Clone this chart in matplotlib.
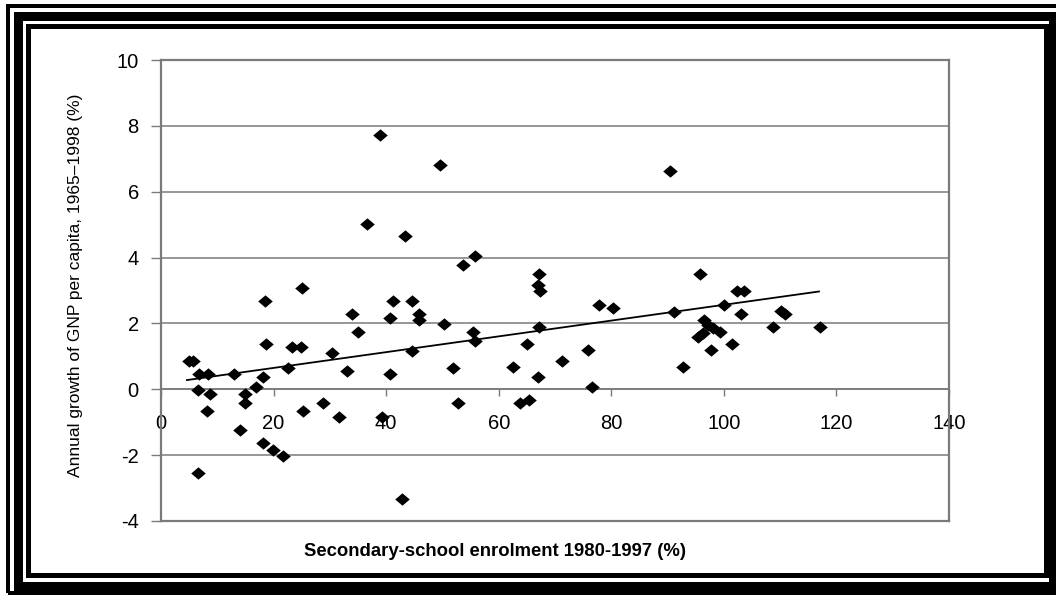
import numpy as np
import matplotlib.pyplot as plt
from matplotlib.patches import Rectangle

# secondary-school enrolment (%) vs annual GNP growth per capita (%)
enrolment = [
    4.9, 5.6, 6.8, 8.4, 6.5, 8.7, 8.1, 6.6, 13.0, 15.0,
    15.0, 14.0, 16.8, 18.1, 18.4, 18.6, 18.1, 19.9, 21.7, 22.5,
    23.2, 24.9, 25.1, 25.3, 28.7, 30.4, 31.6, 33.0, 34.0, 35.0,
    40.7, 41.3, 40.7, 42.9, 44.6, 45.8, 45.8, 44.6, 50.3, 51.9,
    52.8, 55.4, 55.8, 39.2, 38.9, 49.6, 36.6, 43.3, 53.7, 55.8,
    67.2, 67.0, 67.3, 77.9, 80.3, 67.2, 65.0, 75.9, 71.3, 62.5,
    67.0, 76.5, 63.8, 65.4, 90.4, 95.7, 102.3, 103.6, 91.2, 100.1,
    103.1, 110.2, 110.8, 108.8, 117.0, 96.4, 97.2, 98.1, 99.3, 96.3,
    95.4, 101.5, 97.7, 92.8,
]
gnp_growth = [
    0.86, 0.86, 0.46, 0.46, -0.03, -0.15, -0.66, -2.53, 0.46, -0.14,
    -0.43, -1.24, 0.06, 0.38, 2.68, 1.38, -1.64, -1.85, -2.03, 0.66,
    1.28, 1.28, 3.07, -0.66, -0.43, 1.09, -0.83, 0.57, 2.28, 1.75,
    0.47, 2.68, 2.18, -3.34, 2.68, 2.28, 2.09, 1.17, 1.98, 0.66,
    -0.43, 1.75, 1.47, -0.83, 7.71, 6.82, 5.01, 4.67, 3.78, 4.06,
    3.50, 3.17, 2.97, 2.56, 2.46, 1.88, 1.38, 1.19, 0.87, 0.67,
    0.38, 0.06, -0.43, -0.33, 6.64, 3.50, 2.99, 2.99, 2.36, 2.56,
    2.28, 2.39, 2.29, 1.90, 1.90, 2.09, 1.95, 1.85, 1.75, 1.70,
    1.58, 1.38, 1.19, 0.67,
]

# fitted trend line end points
trend_x = [4.6, 116.9]
trend_y = [0.28, 2.97]

x_ticks = [0, 20, 40, 60, 80, 100, 120, 140]
y_ticks = [-4, -2, 0, 2, 4, 6, 8, 10]

W, H = 1056, 595
plt.rcParams['font.family'] = ['Liberation Sans', 'DejaVu Sans']

fig = plt.figure(figsize=(W / 100, H / 100), dpi=100)
ax = fig.add_axes([161 / W, 1 - 521 / H, (949 - 161) / W, (521 - 60) / H])

grey = '#7a7a7a'
ax.set_xlim(0, 140)
ax.set_ylim(-4, 10)
ax.set_xticks(x_ticks)
ax.set_yticks(y_ticks)
ax.set_yticklabels([str(v) for v in y_ticks])
ax.yaxis.grid(True, color=grey, lw=1.1)
ax.set_axisbelow(True)
ax.axhline(-4, color=grey, lw=1.6, clip_on=False)

ax.spines['bottom'].set_position(('data', 0))
for s in ax.spines.values():
    s.set_color(grey)
    s.set_linewidth(1.6)
ax.spines['bottom'].set_linewidth(1.2)

ax.tick_params(axis='x', direction='out', length=5, width=1, color=grey,
               pad=13, labelsize=14.5)
ax.tick_params(axis='y', direction='out', length=7, width=1, color=grey,
               pad=9, labelsize=14.5)

diamond = [(-1, 0), (0, 0.85), (1, 0), (0, -0.85), (-1, 0)]
ax.scatter(enrolment, gnp_growth, marker=diamond, s=110, color='black',
           zorder=3, linewidths=0)
ax.plot(trend_x, trend_y, color='black', lw=1.3, zorder=4)

fig.text(76 / W, 1 - 285 / H, 'Annual growth of GNP per capita, 1965\u20131998 (%)',
         rotation=90, ha='center', va='center', fontsize=12.5)
fig.text(495 / W, 1 - 552 / H, 'Secondary-school enrolment 1980-1997 (%)',
         ha='center', va='center', fontsize=13.3, fontweight='bold')

# triple black frame round the picture, in pixel coordinates
def frame(left, top, right, bottom, lw_px):
    fig.add_artist(Rectangle((left / W, 1 - bottom / H), (right - left) / W,
                             (bottom - top) / H, transform=fig.transFigure,
                             fill=False, ec='black', lw=lw_px * 0.72))

frame(8, 5.5, 1060, 593, 4)
frame(18, 15.5, 1053, 585.5, 9)
frame(27.5, 25.5, 1045.5, 574.5, 5)

fig.savefig('out.png', dpi=100)
